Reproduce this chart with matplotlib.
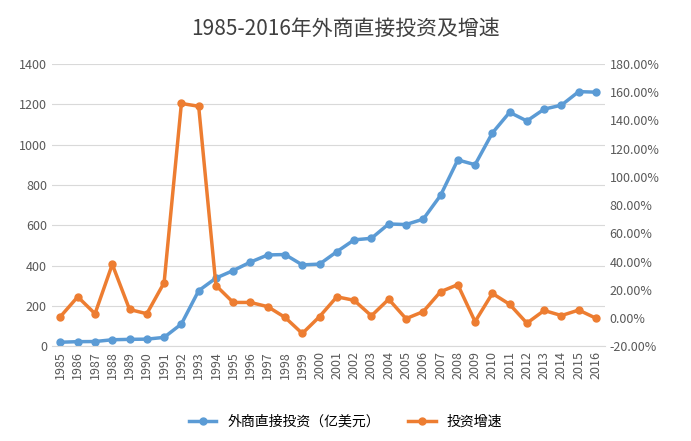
import matplotlib.pyplot as plt
from matplotlib.ticker import FuncFormatter

plt.rcParams['font.family'] = ['Noto Sans CJK JP', 'Noto Sans CJK SC', 'Noto Sans CJK TC',
                               'Noto Sans CJK KR', 'DejaVu Sans']

years = [str(y) for y in range(1985, 2017)]
fdi = [19.6, 22.4, 23.1, 31.9, 33.9, 34.9, 43.7, 110.1, 275.2, 337.7, 375.2, 417.3,
       452.6, 454.6, 403.2, 407.2, 468.8, 527.4, 535.1, 606.3, 603.3, 630.2, 747.7,
       923.9, 900.3, 1057.4, 1160.1, 1117.2, 1175.9, 1195.6, 1262.7, 1260.0]
growth = [1.0, 15.0, 3.0, 38.0, 6.0, 3.0, 25.0, 152.0, 150.0, 23.0, 11.0, 11.0,
          8.0, 0.4, -11.0, 1.0, 15.0, 12.5, 1.5, 13.3, -0.5, 4.5, 18.6, 23.6, -2.6,
          17.4, 9.7, -3.7, 5.3, 1.7, 5.6, -0.2]

fig, ax = plt.subplots(figsize=(6.91, 4.41), dpi=100)
fig.subplots_adjust(left=0.075, right=0.875, top=0.855, bottom=0.215)
x = range(len(years))
l1, = ax.plot(x, fdi, color='#5B9BD5', lw=2.5, marker='o', ms=5, label='外商直接投资（亿美元）')
ax.set_ylim(0, 1400)
ax.set_yticks(range(0, 1401, 200))
ax.grid(axis='y', color='#D9D9D9', lw=0.8)
ax.set_axisbelow(True)
ax.set_xticks(list(x))
ax.set_xticklabels(years, rotation=90)
ax.set_xlim(-0.5, len(years) - 0.5)

ax2 = ax.twinx()
l2, = ax2.plot(x, growth, color='#ED7D31', lw=2.5, marker='o', ms=5, label='投资增速')
ax2.set_ylim(-20, 180)
ax2.set_yticks(range(-20, 181, 20))
ax2.yaxis.set_major_formatter(FuncFormatter(lambda v, p: f'{v:.2f}%'))

for a in (ax, ax2):
    for s in a.spines.values():
        s.set_visible(False)
    a.tick_params(length=0, labelsize=9, colors='#595959')
ax.spines['bottom'].set_visible(True)
ax.spines['bottom'].set_color('#D9D9D9')

fig.suptitle('1985-2016年外商直接投资及增速', fontsize=15, color='#404040', y=0.96)
fig.legend([l1, l2], [l1.get_label(), l2.get_label()], loc='lower center',
           ncol=2, frameon=False, fontsize=10, bbox_to_anchor=(0.5, 0.0))
fig.savefig('out.png')
